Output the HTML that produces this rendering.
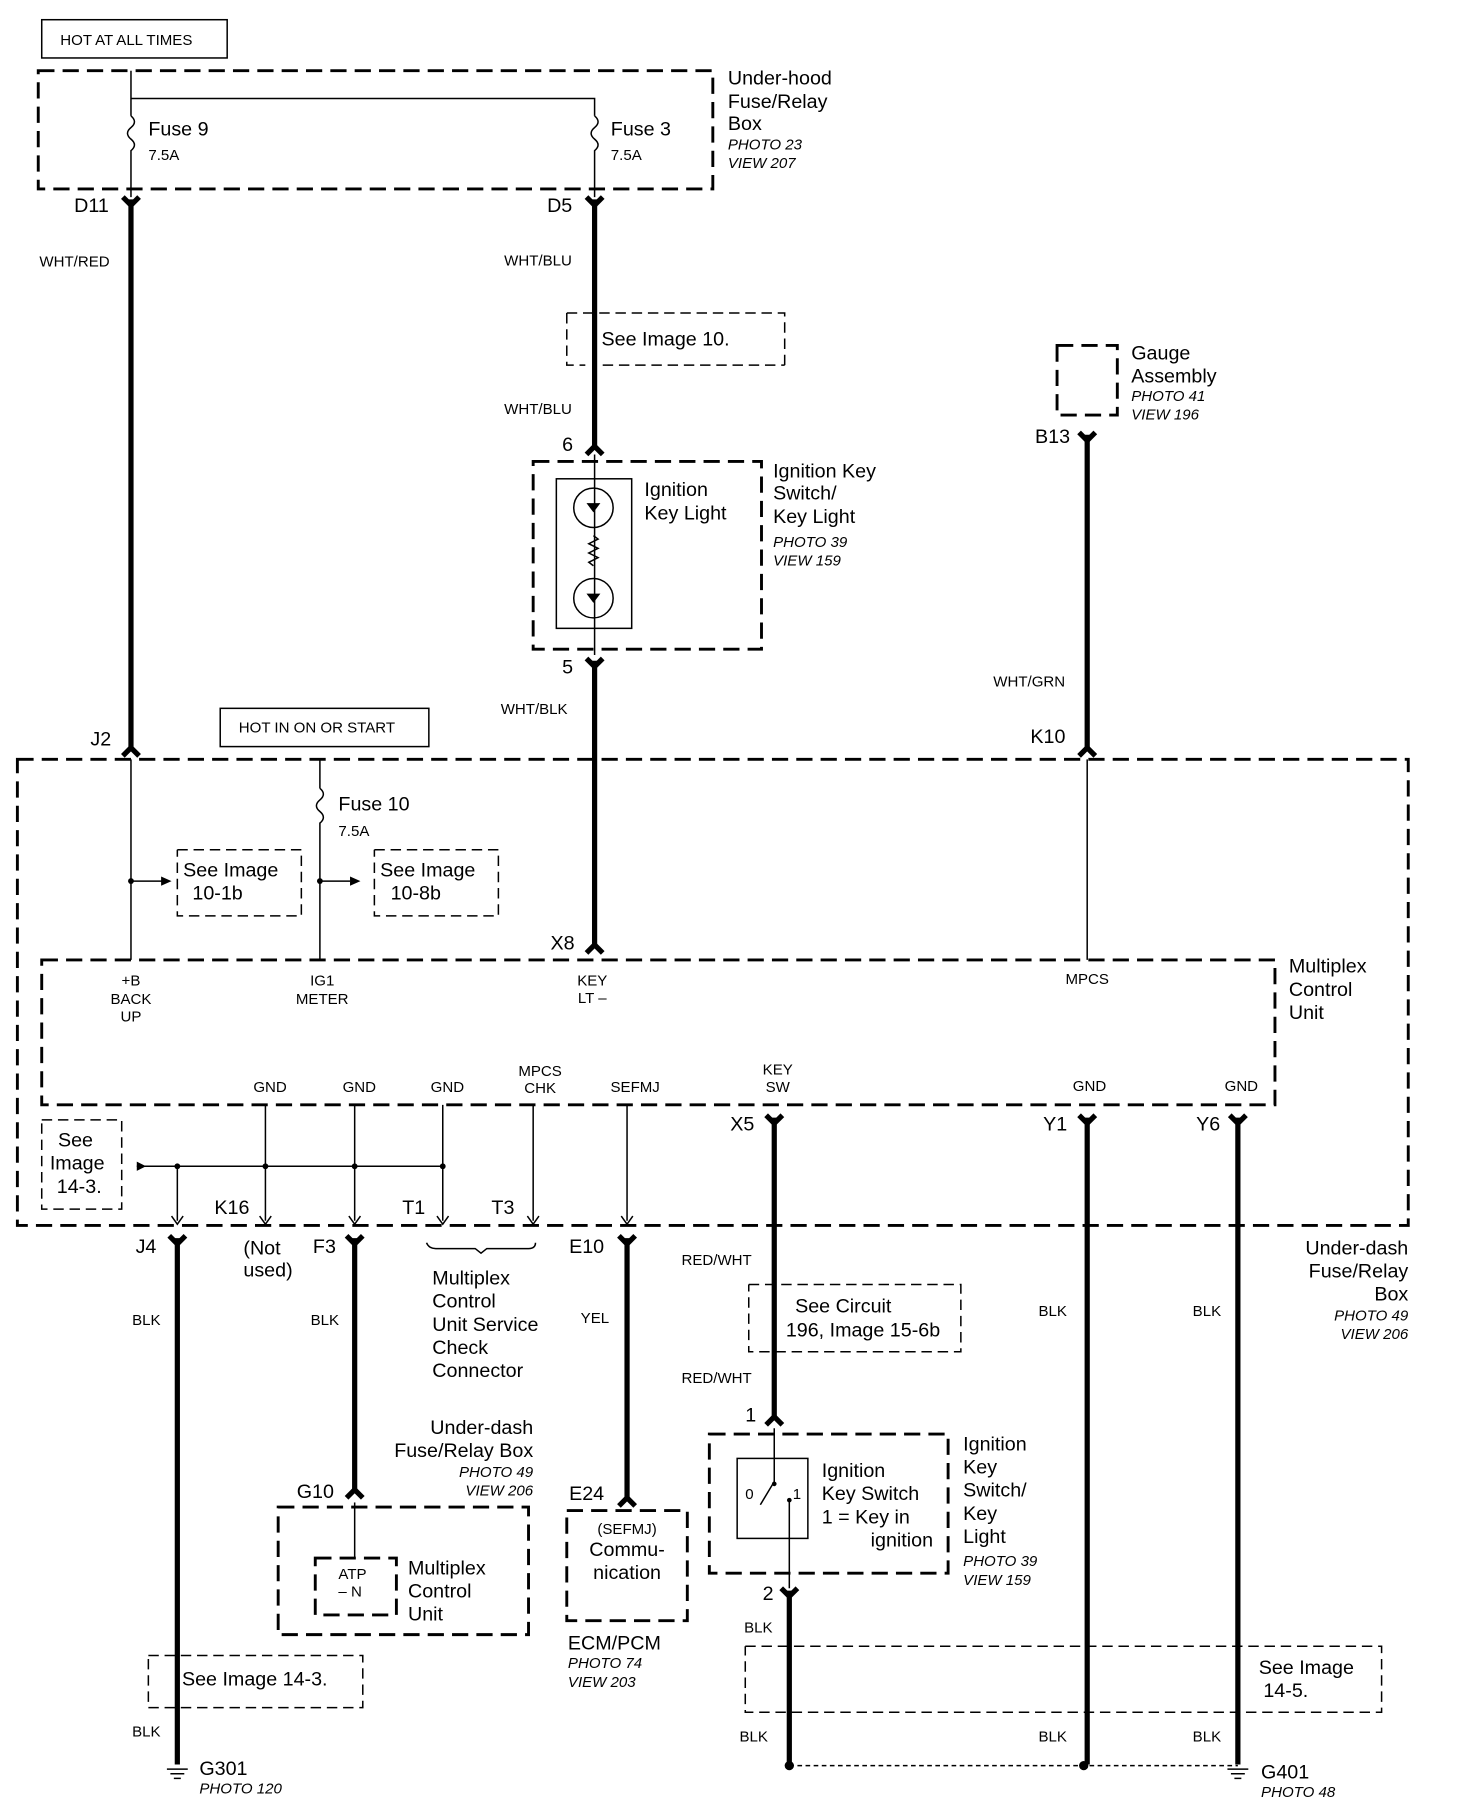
<!DOCTYPE html>
<html><head><meta charset="utf-8"><style>
html,body{margin:0;padding:0;background:#fff;}
svg{display:block}
text{font-family:"Liberation Sans",sans-serif;fill:#000}
.s{font-size:13px}.m{font-size:17px}.i{font-size:13px;font-style:italic}
.t{stroke:#000;stroke-width:4.5;fill:none}
.n{stroke:#000;stroke-width:1.3;fill:none}
.d{stroke:#000;stroke-width:2.5;fill:none;stroke-dasharray:14 7}
.dt{stroke:#000;stroke-width:1.3;fill:none;stroke-dasharray:9 5}
</style></head><body>
<svg width="1472" height="1812" viewBox="0 0 1270 1563" preserveAspectRatio="none" xmlns="http://www.w3.org/2000/svg">
<!-- top -->
<rect x="36" y="17" width="160" height="33" class="n" stroke-width="2"/>
<text x="52" y="39" class="s">HOT AT ALL TIMES</text>
<rect x="33" y="61" width="582" height="102" class="d"/>
<path d="M113 61V100M113 85H513V100" class="n"/>
<path d="M113 100q6 5 0 10q-6 5 0 10q6 5 0 10V170M513 100q6 5 0 10q-6 5 0 10q6 5 0 10V170" class="n"/>
<text x="128" y="117" class="m">Fuse 9</text><text x="128" y="138" class="s">7.5A</text>
<text x="527" y="117" class="m">Fuse 3</text><text x="527" y="138" class="s">7.5A</text>
<text x="628" y="73" class="m">Under-hood</text><text x="628" y="93" class="m">Fuse/Relay</text><text x="628" y="112" class="m">Box</text>
<text x="628" y="129" class="i">PHOTO 23</text><text x="628" y="145" class="i">VIEW 207</text>
<g class="t"><path d="M113 172V648"/><path d="M106 170l7 7l7-7"/><path d="M106 652l7-7l7 7"/>
<path d="M513 172V388"/><path d="M506 170l7 7l7-7"/><path d="M506 392l7-7l7 7"/>
<path d="M513 570V818"/><path d="M506 568l7 7l7-7"/><path d="M506 822l7-7l7 7"/>
<path d="M938 375V648"/><path d="M931 373l7 7l7-7"/><path d="M931 652l7-7l7 7"/></g>
<text x="64" y="183" class="m">D11</text><text x="472" y="183" class="m">D5</text>
<text x="34" y="230" class="s">WHT/RED</text><text x="435" y="229" class="s">WHT/BLU</text>
<path d="M489 270H677V315M489 270V315H505M520 315H677" class="dt"/>
<text x="519" y="298" class="m">See Image 10.</text>
<text x="435" y="357" class="s">WHT/BLU</text><text x="485" y="389" class="m">6</text>
<rect x="460" y="398" width="197" height="162" class="d"/>
<rect x="480" y="413" width="65" height="129" class="n" stroke-width="3"/>
<path d="M513 392V565" class="n"/>
<circle cx="512" cy="438" r="17" class="n" stroke-width="3"/><circle cx="512" cy="516" r="17" class="n" stroke-width="3"/>
<path d="M506 434h12l-6 8z M506 512h12l-6 8z" fill="#000"/>
<path d="M512 462l4 3-8 4 8 4-8 4 8 4-8 4 4 3" class="n" fill="none"/>
<text x="556" y="428" class="m">Ignition</text><text x="556" y="448" class="m">Key Light</text>
<text x="667" y="412" class="m">Ignition Key</text><text x="667" y="431" class="m">Switch/</text><text x="667" y="451" class="m">Key Light</text>
<text x="667" y="472" class="i">PHOTO 39</text><text x="667" y="488" class="i">VIEW 159</text>
<text x="485" y="581" class="m">5</text><text x="432" y="616" class="s">WHT/BLK</text>
<rect x="912" y="298" width="52" height="60" class="d"/>
<text x="976" y="310" class="m">Gauge</text><text x="976" y="330" class="m">Assembly</text>
<text x="976" y="346" class="i">PHOTO 41</text><text x="976" y="362" class="i">VIEW 196</text>
<text x="893" y="382" class="m">B13</text><text x="857" y="592" class="s">WHT/GRN</text><text x="889" y="641" class="m">K10</text>
<rect x="190" y="611" width="180" height="33" class="n" stroke-width="2"/>
<text x="206" y="632" class="s">HOT IN ON OR START</text>
<text x="78" y="643" class="m">J2</text>
<!-- under-dash box -->
<rect x="15" y="655" width="1200" height="402" class="d"/>
<path d="M113 655V828M113 760H140M276 655V680M276 680q6 5 0 10q-6 5 0 10q6 5 0 10V828M276 760H302M938 655V828" class="n"/>
<circle cx="113" cy="760" r="2.5"/><circle cx="276" cy="760" r="2.5"/>
<path d="M148 760l-9-4v8z M311 760l-9-4v8z" fill="#000"/>
<text x="292" y="699" class="m">Fuse 10</text><text x="292" y="721" class="s">7.5A</text>
<path d="M153 733H260V790H153V733" class="dt"/><path d="M323 733H430V790H323V733" class="dt"/>
<text x="158" y="756" class="m">See Image</text><text x="166" y="776" class="m">10-1b</text>
<text x="328" y="756" class="m">See Image</text><text x="337" y="776" class="m">10-8b</text>
<text x="475" y="819" class="m">X8</text>
<rect x="36" y="828" width="1064" height="125" class="d"/>
<g class="s" text-anchor="middle">
<text x="113" y="850">+B</text><text x="113" y="866">BACK</text><text x="113" y="881">UP</text>
<text x="278" y="850">IG1</text><text x="278" y="866">METER</text>
<text x="511" y="850">KEY</text><text x="511" y="865">LT –</text>
<text x="938" y="849">MPCS</text>
<text x="233" y="942">GND</text><text x="310" y="942">GND</text><text x="386" y="942">GND</text>
<text x="466" y="928">MPCS</text><text x="466" y="943">CHK</text><text x="548" y="942">SEFMJ</text>
<text x="671" y="927">KEY</text><text x="671" y="942">SW</text>
<text x="940" y="941">GND</text><text x="1071" y="941">GND</text></g>
<text x="1112" y="839" class="m">Multiplex</text><text x="1112" y="859" class="m">Control</text><text x="1112" y="879" class="m">Unit</text>
<path d="M229 953V1053M306 953V1053M382 953V1053M460 953V1053M541 953V1053M118 1006H382M153 1006V1053" class="n"/>
<g fill="#000"><circle cx="153" cy="1006" r="2.5"/><circle cx="229" cy="1006" r="2.5"/><circle cx="306" cy="1006" r="2.5"/><circle cx="382" cy="1006" r="2.5"/>
<path d="M126 1006l-8-4v8z"/></g>
<path d="M148 1049l5 7l5-7M224 1049l5 7l5-7M301 1049l5 7l5-7M377 1049l5 7l5-7M455 1049l5 7l5-7M536 1049l5 7l5-7" class="n" stroke-width="1.6"/>
<path d="M36 966H105V1043H36V966" class="dt"/>
<text x="50" y="989" class="m">See</text><text x="43" y="1009" class="m">Image</text><text x="49" y="1029" class="m">14-3.</text>
<text x="185" y="1047" class="m">K16</text><text x="347" y="1047" class="m">T1</text><text x="424" y="1047" class="m">T3</text>
<text x="630" y="975" class="m">X5</text><text x="900" y="975" class="m">Y1</text><text x="1032" y="975" class="m">Y6</text>
<g class="t">
<path d="M668 964V1225"/><path d="M661 962l7 7l7-7"/><path d="M661 1229l7-7l7 7"/>
<path d="M938 964V1522"/><path d="M931 962l7 7l7-7"/>
<path d="M1068 964V1522"/><path d="M1061 962l7 7l7-7"/>
<path d="M153 1068V1522"/><path d="M146 1066l7 7l7-7"/>
<path d="M306 1068V1288"/><path d="M299 1066l7 7l7-7"/><path d="M299 1292l7-7l7 7"/>
<path d="M541 1068V1295"/><path d="M534 1066l7 7l7-7"/><path d="M534 1299l7-7l7 7"/>
<path d="M681 1372V1522"/><path d="M674 1370l7 7l7-7"/></g>
<text x="117" y="1081" class="m">J4</text><text x="210" y="1082" class="m">(Not</text><text x="210" y="1101" class="m">used)</text>
<text x="270" y="1081" class="m">F3</text><text x="491" y="1081" class="m">E10</text>
<path d="M368 1072q2 5 8 5H410l5 4l5-4H456q6 0 6-5" class="n" stroke-width="2"/>
<text x="373" y="1108" class="m">Multiplex</text><text x="373" y="1128" class="m">Control</text><text x="373" y="1148" class="m">Unit Service</text><text x="373" y="1168" class="m">Check</text><text x="373" y="1188" class="m">Connector</text>
<text x="501" y="1141" class="s">YEL</text>
<text x="588" y="1091" class="s">RED/WHT</text><text x="588" y="1193" class="s">RED/WHT</text>
<path d="M646 1108H829V1166H646V1108" class="dt"/>
<text x="686" y="1132" class="m">See Circuit</text><text x="678" y="1153" class="m">196, Image 15-6b</text>
<text x="643" y="1226" class="m">1</text>
<g class="m" text-anchor="end"><text x="1215" y="1082">Under-dash</text><text x="1215" y="1102">Fuse/Relay</text><text x="1215" y="1122">Box</text>
<text x="460" y="1237">Under-dash</text><text x="460" y="1257">Fuse/Relay Box</text></g>
<g class="i" text-anchor="end"><text x="1215" y="1139">PHOTO 49</text><text x="1215" y="1155">VIEW 206</text>
<text x="460" y="1274">PHOTO 49</text><text x="460" y="1290">VIEW 206</text></g>
<text x="114" y="1143" class="s">BLK</text><text x="268" y="1143" class="s">BLK</text><text x="896" y="1135" class="s">BLK</text><text x="1029" y="1135" class="s">BLK</text>
<text x="256" y="1292" class="m">G10</text>
<rect x="240" y="1300" width="216" height="110" class="d"/>
<path d="M306 1296V1344" class="n"/>
<rect x="272" y="1344" width="70" height="49" class="d" stroke-width="2"/>
<text x="292" y="1362" class="s">ATP</text><text x="292" y="1377" class="s">– N</text>
<text x="352" y="1358" class="m">Multiplex</text><text x="352" y="1378" class="m">Control</text><text x="352" y="1398" class="m">Unit</text>
<text x="491" y="1294" class="m">E24</text>
<rect x="489" y="1303" width="104" height="95" class="d"/>
<text x="541" y="1323" class="s" text-anchor="middle">(SEFMJ)</text>
<text x="541" y="1342" class="m" text-anchor="middle">Commu-</text><text x="541" y="1362" class="m" text-anchor="middle">nication</text>
<text x="490" y="1423" class="m">ECM/PCM</text><text x="490" y="1439" class="i">PHOTO 74</text><text x="490" y="1455" class="i">VIEW 203</text>
<rect x="612" y="1237" width="206" height="120" class="d"/>
<rect x="636" y="1258" width="61" height="69" class="n" stroke-width="3"/>
<path d="M668 1232V1278l-12 20M681 1294V1370" class="n"/>
<circle cx="668" cy="1280" r="2"/><circle cx="681" cy="1294" r="2"/>
<text x="643" y="1293" class="s">0</text><text x="684" y="1293" class="s">1</text>
<text x="709" y="1274" class="m">Ignition</text><text x="709" y="1294" class="m">Key Switch</text>
<text x="709" y="1314" class="m">1 =  Key in</text><text x="805" y="1334" class="m" text-anchor="end">ignition</text>
<text x="831" y="1251" class="m">Ignition</text><text x="831" y="1271" class="m">Key</text><text x="831" y="1291" class="m">Switch/</text><text x="831" y="1311" class="m">Key</text><text x="831" y="1331" class="m">Light</text>
<text x="831" y="1351" class="i">PHOTO 39</text><text x="831" y="1367" class="i">VIEW 159</text>
<text x="658" y="1380" class="m">2</text><text x="642" y="1408" class="s">BLK</text>
<path d="M643 1420H1192V1477H643V1420" class="dt"/>
<text x="1086" y="1444" class="m">See Image</text><text x="1090" y="1464" class="m">14-5.</text>
<path d="M128 1428H313V1473H128V1428" class="dt"/>
<text x="157" y="1454" class="m">See Image 14-3.</text>
<text x="114" y="1498" class="s">BLK</text><text x="638" y="1502" class="s">BLK</text><text x="896" y="1502" class="s">BLK</text><text x="1029" y="1502" class="s">BLK</text>
<path d="M144 1526H162M147 1530H159M150 1534H156M1059 1526H1077M1062 1530H1074M1065 1534H1071" class="n" stroke-width="2"/>
<path d="M681 1523H1068" class="n" stroke-dasharray="4 3"/>
<circle cx="681" cy="1523" r="4"/><circle cx="935" cy="1523" r="4"/>
<text x="172" y="1531" class="m">G301</text><text x="172" y="1547" class="i">PHOTO 120</text>
<text x="1088" y="1534" class="m">G401</text><text x="1088" y="1550" class="i">PHOTO 48</text>
</svg>
</body></html>
